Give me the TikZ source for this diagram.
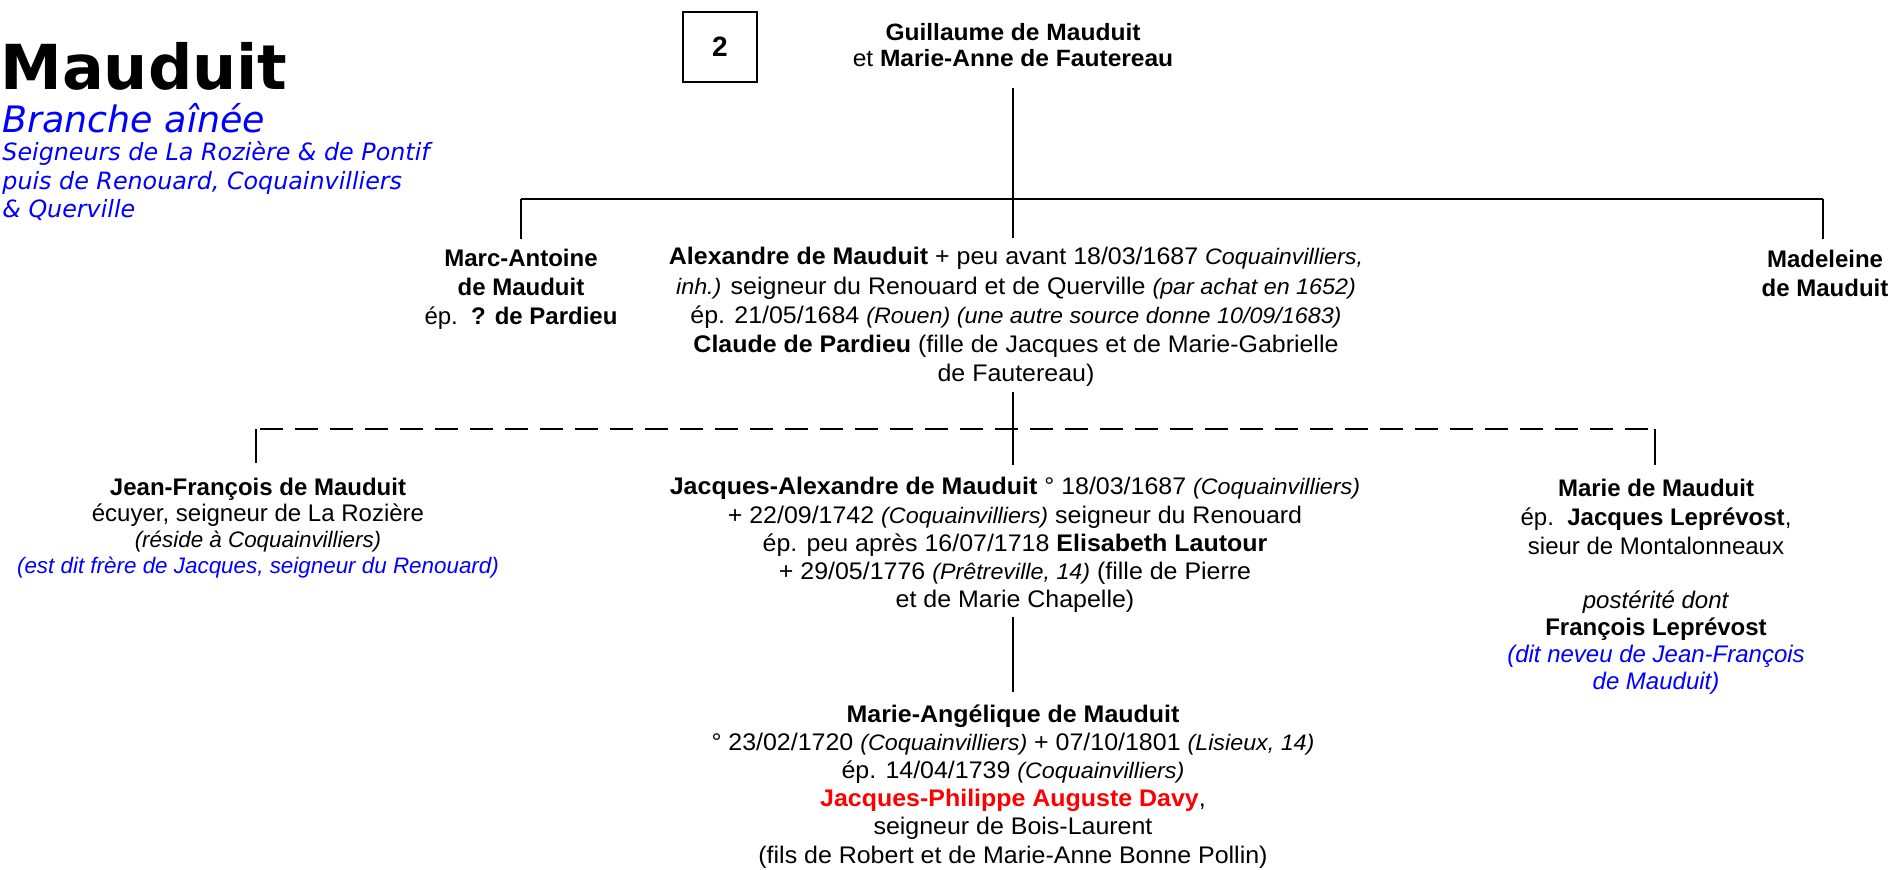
\documentclass[tikz,border=0pt]{standalone}
\usepackage{fontspec}
\setmainfont{Liberation Sans}
\newfontfamily\dvsans{DejaVu Sans}
\newfontfamily\widesans{Liberation Sans}[FakeStretch=1.04]
\newcommand{\smit}[1]{{\fontsize{11.2}{13}\selectfont\itshape #1}}
\newcommand{\blk}[1]{\begin{tabular}[t]{@{}c@{}}#1\end{tabular}}
\tikzset{
  conn/.style={line width=1.3pt, black},
  hconn/.style={line width=1.45pt, black},
  dconn/.style={line width=1.45pt, black, dash pattern=on 11.5pt off 6pt, dash phase=15.5pt},
  wblock/.style={anchor=base, inner sep=0pt, font=\widesans\fontsize{12}{#1}\selectfont},
  wblock/.default=14.5,
  rblock/.style={anchor=base, inner sep=0pt, font=\fontsize{12}{#1}\selectfont},
  rblock/.default=14.5,
  numbox/.style={draw, line width=0.75pt, minimum width=37pt, minimum height=35pt, inner sep=0pt, font=\bfseries\fontsize{14}{16}\selectfont},
  titlefont/.style={anchor=base west, inner sep=0pt, font=\dvsans\bfseries\fontsize{31}{31}\selectfont},
  subfont/.style={anchor=base west, inner sep=0pt, text=blue, font=\dvsans\itshape\fontsize{#1}{14.25}\selectfont},
}
\begin{document}
\begin{tikzpicture}[x=0.5pt,y=-0.5pt]
\useasboundingbox (0,0) rectangle (1893,870);

% title
\node[titlefont] (title) at (0,90) {Mauduit};
\node[subfont=18.2] (branch) at (2,133) {Branche aînée};
\node[subfont=11.9] (seig) at (2,161) {\begin{tabular}[t]{@{}l@{}}Seigneurs de La Rozière \& de Pontif\\ puis de Renouard, Coquainvilliers\\ \& Querville\end{tabular}};

% number box
\node[numbox] (num) at (720,47) {2};

% people
\node[anchor=base, inner sep=0pt, font=\widesans\fontsize{11.8}{13}\selectfont] (guil) at (1013,41) {\blk{\textbf{Guillaume de Mauduit}\\ et \textbf{Marie-Anne de Fautereau}}};

\node[rblock] (marc) at (521,267) {\blk{\textbf{Marc-Antoine}\\ \textbf{de Mauduit}\\ ép.\ \ \textbf{? de Pardieu}}};

\node[wblock=14.6] (alex) at (1016,265) {\blk{\textbf{Alexandre de Mauduit} + peu avant 18/03/1687 \smit{Coquainvilliers,}\\
\smit{inh.)} seigneur du Renouard et de Querville \smit{(par achat en 1652)}\\
ép. 21/05/1684 \smit{(Rouen) (une autre source donne 10/09/1683)}\\
\textbf{Claude de Pardieu} (fille de Jacques et de Marie-Gabrielle\\
de Fautereau)}};

\node[rblock] (made) at (1825,268) {\blk{\textbf{Madeleine}\\ \textbf{de Mauduit}}};

\node[rblock=13] (jf) at (258,496) {\blk{\textbf{Jean-François de Mauduit}\\
écuyer, seigneur de La Rozière\\
\smit{(réside à Coquainvilliers)}\\
\textcolor{blue}{\smit{(est dit frère de Jacques, seigneur du Renouard)}}}};

\node[wblock=14.125] (ja) at (1015,495) {\blk{\textbf{Jacques-Alexandre de Mauduit} ° 18/03/1687 \smit{(Coquainvilliers)}\\
+ 22/09/1742 \smit{(Coquainvilliers)} seigneur du Renouard\\
ép. peu après 16/07/1718 \textbf{Elisabeth Lautour}\\
+ 29/05/1776 \smit{(Prêtreville, 14)} (fille de Pierre\\
et de Marie Chapelle)}};

\node[rblock] (marie) at (1656,497) {\blk{\textbf{Marie de Mauduit}\\
ép.\ \ \textbf{Jacques Leprévost},\\
sieur\ de\ Montalonneaux}};

\node[rblock=13.35] (post) at (1656,609) {\blk{\textit{postérité dont}\\
\textbf{François Leprévost}\\
\textcolor{blue}{\textit{(dit neveu de Jean-François}}\\
\textcolor{blue}{\textit{de Mauduit)}}}};

\node[wblock=14.1] (ma) at (1013,722) {\blk{\textbf{Marie-Angélique de Mauduit}\\
° 23/02/1720 \smit{(Coquainvilliers)} + 07/10/1801 \smit{(Lisieux, 14)}\\
ép. 14/04/1739 \smit{(Coquainvilliers)}\\
\textcolor{red}{\textbf{Jacques-Philippe Auguste Davy}},\\
seigneur de Bois-Laurent\\
(fils de Robert et de Marie-Anne Bonne Pollin)}};

% connector points
\coordinate (gbot) at (1013,88);
\coordinate (topbar) at (1013,199);
\coordinate (atop) at (1013,238);
\coordinate (marcbar) at (521,199);
\coordinate (marctop) at (521,239);
\coordinate (madebar) at (1823,199);
\coordinate (madetop) at (1823,239);
\coordinate (abot) at (1013,392);
\coordinate (jatop) at (1013,465);
\coordinate (jfbar) at (256,429);
\coordinate (jftop) at (256,463);
\coordinate (mariebar) at (1655,429);
\coordinate (marietop) at (1655,465);
\coordinate (jabot) at (1013,617);
\coordinate (matop) at (1013,692);

% connectors
\draw[conn] (gbot) -- (atop);
\draw[hconn] (marcbar) -- (madebar);
\draw[conn] (marctop) -- (marcbar);
\draw[conn] (madebar) -- (madetop);
\draw[dconn] (jfbar) -- (mariebar);
\draw[conn] (jfbar) -- (jftop);
\draw[conn] (mariebar) -- (marietop);
\draw[conn] (abot) -- (jatop);
\draw[conn] (jabot) -- (matop);
\end{tikzpicture}
\end{document}
